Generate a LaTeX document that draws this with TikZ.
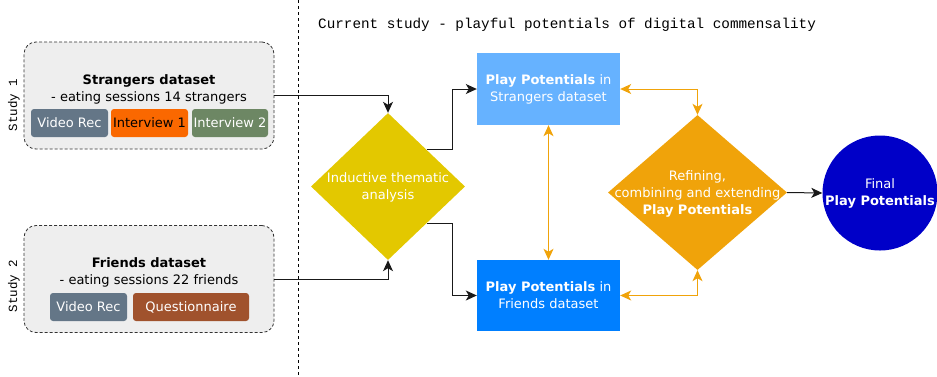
\documentclass[tikz,border=0pt]{standalone}
\usepackage{fontspec}
\setmainfont{DejaVu Sans}
\setmonofont{Liberation Mono}
\usetikzlibrary{arrows.meta,shapes.geometric,calc}
\definecolor{contfill}{HTML}{EEEEEE}
\definecolor{contdraw}{HTML}{333333}
\definecolor{vidc}{HTML}{647687}
\definecolor{int1c}{HTML}{FA6800}
\definecolor{int2c}{HTML}{6D8764}
\definecolor{questc}{HTML}{A0522D}
\definecolor{strc}{HTML}{66B2FF}
\definecolor{frc}{HTML}{007FFF}
\definecolor{yelc}{HTML}{E3C800}
\definecolor{orac}{HTML}{F0A30A}
\definecolor{finc}{HTML}{0000C8}
\tikzset{
  txt/.style={font=\fontsize{13}{17}\selectfont, align=center, inner sep=0pt},
  container/.style={draw=contdraw, fill=contfill, line width=0.8pt, dash pattern=on 3pt off 2pt, rounded corners=12pt, minimum width=250pt, minimum height=107pt, inner sep=0pt},
  chip/.style={rounded corners=3pt, minimum height=28pt, inner sep=0pt, text=white, font=\fontsize{13}{15}\selectfont},
  pbox/.style={minimum width=143pt, inner sep=0pt, text=white, font=\fontsize{13}{17}\selectfont, align=center},
  diam/.style={diamond, inner sep=0pt, shape aspect=1},
  conn/.style={draw=black!90, line width=1pt, -{Stealth[length=11pt,width=10pt,inset=3pt]}},
  oconn/.style={draw=orac, line width=1pt, {Stealth[length=11pt,width=10pt,inset=3pt]}-{Stealth[length=11pt,width=10pt,inset=3pt]}},
  mono/.style={font=\ttfamily\fontsize{14.3}{16}\selectfont, inner sep=0pt},
  studylbl/.style={rotate=90, inner sep=0pt, font=\ttfamily\fontsize{12.5}{15}\selectfont},
}
\begin{document}
\begin{tikzpicture}[x=1pt,y=-1pt]
\useasboundingbox (0,0) rectangle (937,376);
% divider
\draw[black, line width=0.8pt, dash pattern=on 3pt off 3pt] (298,0) coordinate (dtop) -- (298,376) coordinate (dbot);
\node[mono, anchor=west] (title) at (318,25) {Current study - playful potentials of digital commensality};
% study labels
\node[studylbl] (st1) at (14,105) {Study 1};
\node[studylbl] (st2) at (14,286) {Study 2};
% containers
\node[container] (c1) at (149,95.5) {};
\node[txt] (c1t) at (149,89) {\textbf{Strangers dataset}\\- eating sessions 14 strangers};
\node[chip, fill=vidc, minimum width=77pt] (v1) at (69.5,123) {Video Rec};
\node[chip, fill=int1c, minimum width=77pt, text=black] (i1) at (149.5,123) {Interview 1};
\node[chip, fill=int2c, minimum width=76pt] (i2) at (230,123) {Interview 2};
\node[container] (c2) at (149,279) {};
\node[txt] (c2t) at (149,272) {\textbf{Friends dataset}\\- eating sessions 22 friends};
\node[chip, fill=vidc, minimum width=77pt] (v2) at (88.5,307) {Video Rec};
\node[chip, fill=questc, minimum width=116pt] (q2) at (191,307) {Questionnaire};
% diamond 1
\node[diam, fill=yelc, minimum width=154pt, minimum height=147pt] (d1) at (388,186.5) {};
\node[txt, text=white] (d1t) at (388,187.5) {Inductive thematic\\analysis};
% boxes
\node[pbox, fill=strc, minimum height=72pt] (s) at (548.5,89) {\textbf{Play Potentials} in\\Strangers dataset};
\node[pbox, fill=frc, minimum height=71pt] (f) at (548.5,295.5) {\textbf{Play Potentials} in\\Friends dataset};
% diamond 2
\node[diam, fill=orac, minimum width=179pt, minimum height=155pt] (d2) at (697.5,192.5) {};
\node[txt, text=white] (d2t) at (697.5,193.5) {Refining,\\combining and extending\\\textbf{Play Potentials}};
% final circle
\node[circle, fill=finc, minimum size=115pt, inner sep=0pt, text=white, font=\fontsize{13}{17}\selectfont, align=center] (fin) at (880,193) {Final\\\textbf{Play Potentials}};
% connectors
\draw[conn] (c1.east) -| (d1.north);
\draw[conn] (c2.east) -| (d1.south);
\coordinate (ne) at ($(d1.north)!0.5!(d1.east)$);
\coordinate (se) at ($(d1.south)!0.5!(d1.east)$);
\draw[conn] (ne) -- ++(26,0) |- (s.west);
\draw[conn] (se) -- ++(26,0) |- (f.west);
\draw[oconn] (s.south) -- (f.north);
\draw[oconn] (s.east) -| (d2.north);
\draw[oconn] (f.east) -| (d2.south);
\draw[conn] (d2.east) -- (fin.west);
\end{tikzpicture}
\end{document}
